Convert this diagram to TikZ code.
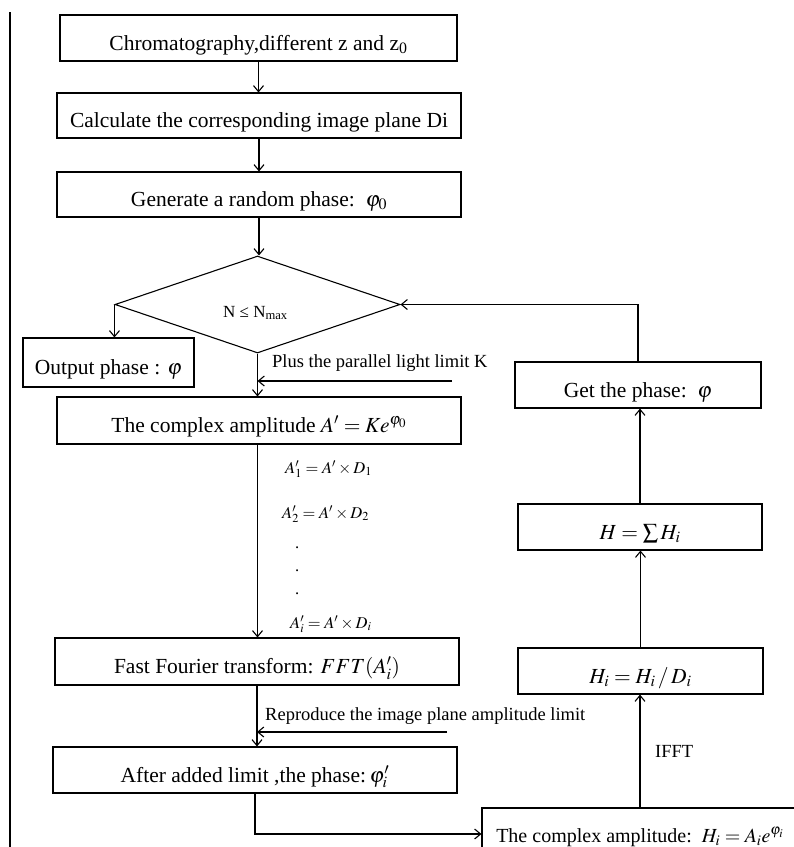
\documentclass[tikz,border=0pt]{standalone}
\usepackage{mathptmx}
\usepackage[no-math]{fontspec}
\setmainfont{Liberation Serif}
\usetikzlibrary{arrows.meta,shapes.geometric}
\begin{document}
\begin{tikzpicture}[x=1pt,y=-1pt,
  box/.style={draw, line width=1.1pt, inner sep=0pt, text height=24pt, text depth=0pt, font=\fontsize{21.5}{24}\selectfont},
  lbl/.style={inner sep=0pt, anchor=base west, font=\fontsize{18.5}{21}\selectfont},
  frm/.style={inner sep=0pt, anchor=base west, font=\fontsize{16.5}{19}\selectfont},
  arr/.style={line width=1.1pt, -{Straight Barb[length=6pt,width=10pt]}},
  ln/.style={line width=1.1pt}]
\useasboundingbox (0,0) rectangle (794,847);
\clip (0,0) rectangle (794,847);
% left margin rule
\draw[ln] (10,12) -- (10,847);
% left column
\node[box, minimum width=397pt, minimum height=46pt] (b1) at (258.5,38) {Chromatography,different z and z\textsubscript{0}};
\node[box, minimum width=404pt, minimum height=45pt] (b2) at (259,115.5) {Calculate the corresponding image plane Di};
\node[box, minimum width=404pt, minimum height=45pt] (b3) at (259,194.5) {Generate a random phase:\ \ $\varphi_0$};
\node[draw, diamond, line width=1.1pt, minimum width=285pt, minimum height=97pt, inner sep=0pt] (dec) at (257.5,304.5) {};
\node[inner sep=0pt, anchor=base west, font=\fontsize{17}{20}\selectfont] (cond) at (223,317) {N ≤ N\textsubscript{max}};
\node[box, minimum width=171pt, minimum height=49pt] (out) at (108.5,362.5) {Output phase : $\varphi$};
\node[box, minimum width=404pt, minimum height=47pt] (b4) at (259,420.5) {The complex amplitude $A' = Ke^{\varphi_0}$};
\node[box, minimum width=404pt, minimum height=47pt] (b5) at (257,661.5) {Fast Fourier transform: $FFT(A_i')$};
\node[box, minimum width=404pt, minimum height=46pt] (b6) at (255,770) {After added limit ,the phase:\,$\varphi_i'$};
% right column
\node[box, minimum width=246pt, minimum height=46pt] (get) at (638,385) {Get the phase:\ \ $\varphi$};
\node[box, minimum width=244pt, minimum height=46pt] (hsum) at (640,527) {$H = \sum H_i$};
\node[box, minimum width=245pt, minimum height=46pt] (hi) at (640.5,671) {$H_i = H_i \,/\, D_i$};
\node[box, minimum width=316pt, minimum height=52pt, text height=16pt, font=\fontsize{20}{24}\selectfont] (bot) at (640,834) {The complex amplitude:\ \ $H_i = A_i e^{\varphi_i}$};
% formulas
\node[frm] (f1) at (285,473) {$A_1' = A' \times D_1$};
\node[frm] (f2) at (282,518) {$A_2' = A' \times D_2$};
\node[frm] (d1) at (295,548) {.};
\node[frm] (d2) at (295,571) {.};
\node[frm] (d3) at (295,594) {.};
\node[frm] (f3) at (290,628) {$A_i' = A' \times D_i$};
% labels
\node[lbl] (lk) at (272,367) {Plus the parallel light limit K};
\node[lbl] (lr) at (265,720) {Reproduce the image plane amplitude limit};
\node[lbl] (lifft) at (655,757) {IFFT};
% coordinates for free line ends
\coordinate (ks) at (452,381);
\coordinate (rs) at (447,732);
% connectors
\draw[arr] (b1.south) -- (b1.south |- b2.north);
\draw[arr] (b2.south) -- (b2.south |- b3.north);
\draw[arr] (b3.south) -- (b3.south |- dec.north);
\draw[arr] (dec.west) -- (dec.west |- out.north);
\draw[arr] (dec.south) -- (dec.south |- b4.north);
\draw[arr] (ks) -- (dec.south |- ks);
\draw[arr] (b4.south -| dec.south) -- (dec.south |- b5.north);
\draw[arr] (b5.south) -- (b5.south |- b6.north);
\draw[arr] (rs) -- (b5.south |- rs);
\draw[arr] (b6.south) |- (bot.west);
\draw[arr] (bot.north) -- (bot.north |- hi.south);
\draw[arr] (hi.north) -- (hi.north |- hsum.south);
\draw[arr] (hsum.north) -- (hsum.north |- get.south);
\draw[arr] (get.north) |- (dec.east);
\end{tikzpicture}
\end{document}
